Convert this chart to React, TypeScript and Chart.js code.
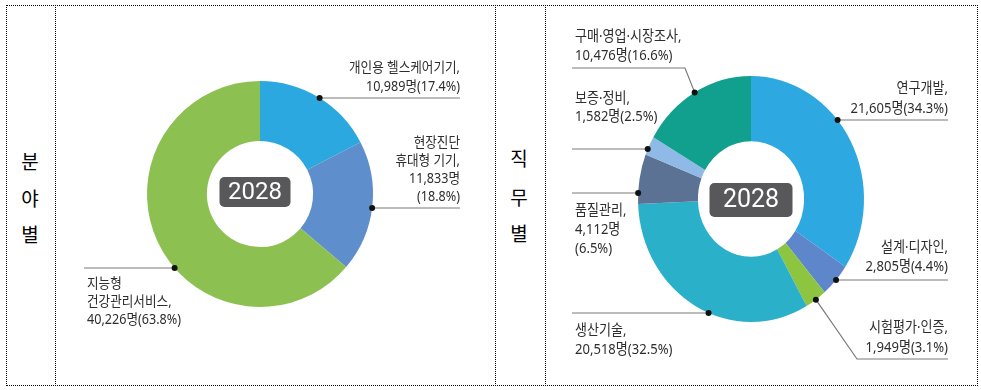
import React, { useEffect, useRef } from "react";
import { Chart, registerables } from "chart.js";

Chart.register(...registerables);

// ---------- data ----------
const centerLabel = "2028";

const leftTitle = ["분", "야", "별"];
const leftCategories = ["개인용 헬스케어기기", "현장진단\n휴대형 기기", "지능형\n건강관리서비스"];
const leftValues = [10989, 11833, 40226];
const leftPercents = [17.4, 18.8, 63.8];

const rightTitle = ["직", "무", "별"];
const rightCategories = [
  "연구개발",
  "설계·디자인",
  "시험평가·인증",
  "생산기술",
  "품질관리",
  "보증·정비",
  "구매·영업·시장조사",
];
const rightValues = [21605, 2805, 1949, 20518, 4112, 1582, 10476];
const rightPercents = [34.3, 4.4, 3.1, 32.5, 6.5, 2.5, 16.6];

// ---------- styles ----------
const leftColors = ["#2BA8E0", "#5F8ECD", "#8CC152"];
const rightColors = ["#2DA8E1", "#5E87CB", "#8DC540", "#2BB0C9", "#5B7295", "#8FB9E6", "#12A08E"];

type Leader =
  | { mode: "y"; y: number; side: "left" | "right"; endX: number }
  | { mode: "mid"; elbowX: number; elbowY: number; endX: number };

type LabelLayout = {
  align: "left" | "right";
  x: number;
  ys: number[];
  splitValue?: boolean;
  leader: Leader;
};

type Panel = {
  left: number;
  top: number;
  width: number;
  height: number;
  cx: number;
  cy: number;
  r: number;
  sy: number;
  fontSize: number;
  scaleX: number;
  box: { dx: number; dy: number; w: number; h: number; fontSize: number };
  categories: string[];
  values: number[];
  percents: number[];
  colors: string[];
  labels: LabelLayout[];
};

const leftPanel: Panel = {
  left: 56,
  top: 6,
  width: 439,
  height: 379,
  cx: 260,
  cy: 194,
  r: 113,
  sy: 1,
  fontSize: 14,
  scaleX: 0.9,
  box: { dx: -5, dy: -2, w: 71, h: 30, fontSize: 24 },
  categories: leftCategories,
  values: leftValues,
  percents: leftPercents,
  colors: leftColors,
  labels: [
    { align: "right", x: 460, ys: [68, 87], leader: { mode: "y", y: 98, side: "right", endX: 460 } },
    {
      align: "right",
      x: 460,
      ys: [143, 161, 179, 197],
      splitValue: true,
      leader: { mode: "y", y: 208, side: "right", endX: 460 },
    },
    { align: "left", x: 87, ys: [284, 302, 320], leader: { mode: "y", y: 268, side: "left", endX: 84 } },
  ],
};

const rightPanel: Panel = {
  left: 546,
  top: 6,
  width: 431,
  height: 379,
  cx: 751,
  cy: 199,
  r: 113,
  sy: 1.0885,
  fontSize: 15,
  scaleX: 0.87,
  box: { dx: 0, dy: 1, w: 83, h: 34, fontSize: 25 },
  categories: rightCategories,
  values: rightValues,
  percents: rightPercents,
  colors: rightColors,
  labels: [
    { align: "right", x: 948, ys: [89, 109], leader: { mode: "y", y: 120, side: "right", endX: 948 } },
    { align: "right", x: 948, ys: [248, 267], leader: { mode: "y", y: 280, side: "right", endX: 948 } },
    { align: "right", x: 948, ys: [328, 348], leader: { mode: "mid", elbowX: 857, elbowY: 359, endX: 948 } },
    { align: "left", x: 575, ys: [331, 350], leader: { mode: "y", y: 313, side: "left", endX: 572 } },
    {
      align: "left",
      x: 575,
      ys: [211, 230, 249],
      splitValue: true,
      leader: { mode: "y", y: 193, side: "left", endX: 572 },
    },
    { align: "left", x: 575, ys: [99, 117], leader: { mode: "y", y: 149, side: "left", endX: 572 } },
    { align: "left", x: 575, ys: [37, 56], leader: { mode: "mid", elbowX: 685, elbowY: 68, endX: 572 } },
  ],
};

const fmt = (n: number) => n.toLocaleString("en-US");

function labelLines(p: Panel, i: number): string[] {
  const nameLines = (p.categories[i] + ",").split("\n");
  const v = `${fmt(p.values[i])}명`;
  const pc = `(${p.percents[i].toFixed(1)}%)`;
  const layout = p.labels[i];
  return layout.splitValue ? [...nameLines, v, pc] : [...nameLines, v + pc];
}

function makePlugin(p: Panel) {
  return {
    id: "annotations",
    beforeDatasetsDraw(chart: any) {
      const arc = chart.getDatasetMeta(0).data[0];
      const ctx = chart.ctx;
      ctx.save();
      ctx.translate(arc.x, arc.y);
      ctx.scale(1, p.sy);
      ctx.translate(-arc.x, -arc.y);
    },
    afterDatasetsDraw(chart: any) {
      chart.ctx.restore();
    },
    afterDraw(chart: any) {
      const ctx: CanvasRenderingContext2D = chart.ctx;
      const meta = chart.getDatasetMeta(0);
      const ox = p.left;
      const oy = p.top;
      ctx.save();
      p.labels.forEach((lab, i) => {
        const el = meta.data[i];
        const cx = el.x;
        const cy = el.y;
        const R = el.outerRadius;
        let px: number;
        let py: number;
        ctx.strokeStyle = "#7a7a7a";
        ctx.lineWidth = 1.2;
        ctx.beginPath();
        if (lab.leader.mode === "y") {
          const ly = lab.leader.y - oy;
          const t = (ly - cy) / (R * p.sy);
          const dx = Math.sqrt(Math.max(0, 1 - t * t)) * R;
          px = cx + (lab.leader.side === "right" ? dx : -dx);
          py = ly;
          ctx.moveTo(px, py);
          ctx.lineTo(lab.leader.endX - ox, py);
        } else {
          const a = (el.startAngle + el.endAngle) / 2;
          px = cx + R * Math.cos(a);
          py = cy + R * p.sy * Math.sin(a);
          ctx.moveTo(lab.leader.endX - ox, lab.leader.elbowY - oy);
          ctx.lineTo(lab.leader.elbowX - ox, lab.leader.elbowY - oy);
          ctx.lineTo(px, py);
        }
        ctx.stroke();
        ctx.fillStyle = "#111";
        ctx.beginPath();
        ctx.arc(px, py, 3, 0, Math.PI * 2);
        ctx.fill();

        const lines = labelLines(p, i);
        ctx.fillStyle = "#2e2e2e";
        ctx.font = `${p.fontSize}px "Noto Sans", "Noto Sans CJK KR", sans-serif`;
        ctx.textBaseline = "middle";
        ctx.textAlign = lab.align;
        lines.forEach((ln, j) => {
          ctx.save();
          ctx.translate(lab.x - ox, lab.ys[j] - oy);
          ctx.scale(p.scaleX, 1);
          ctx.fillText(ln, 0, 0);
          ctx.restore();
        });
      });

      // center box
      const el0 = meta.data[0];
      const bx = el0.x + p.box.dx;
      const by = el0.y + p.box.dy;
      ctx.fillStyle = "#58585A";
      ctx.beginPath();
      (ctx as any).roundRect(bx - p.box.w / 2, by - p.box.h / 2, p.box.w, p.box.h, 5);
      ctx.fill();
      ctx.fillStyle = "#ffffff";
      ctx.font = `${p.box.fontSize}px Roboto, "Noto Sans", sans-serif`;
      ctx.textAlign = "center";
      ctx.textBaseline = "middle";
      ctx.fillText(centerLabel, bx, by + 1);
      ctx.restore();
    },
  };
}

function DonutPanel({ p }: { p: Panel }) {
  const ref = useRef<HTMLCanvasElement | null>(null);
  useEffect(() => {
    if (!ref.current) return;
    const lcx = p.cx - p.left;
    const lcy = p.cy - p.top;
    const chart = new Chart(ref.current, {
      type: "doughnut",
      data: {
        labels: p.categories.map((c) => c.replace("\n", " ")),
        datasets: [
          {
            data: p.values,
            backgroundColor: p.colors,
            borderWidth: 0,
            hoverBorderWidth: 0,
            hoverOffset: 0,
            clip: false,
          } as any,
        ],
      },
      options: {
        animation: false,
        responsive: false,
        maintainAspectRatio: false,
        devicePixelRatio: 1,
        cutout: "47%",
        events: [],
        layout: {
          padding: {
            left: lcx - p.r,
            right: p.width - lcx - p.r,
            top: lcy - p.r,
            bottom: p.height - lcy - p.r,
          },
        },
        plugins: { legend: { display: false }, tooltip: { enabled: false } },
      } as any,
      plugins: [makePlugin(p) as any],
    });
    return () => chart.destroy();
  }, [p]);
  return (
    <canvas
      ref={ref}
      width={p.width}
      height={p.height}
      style={{ position: "absolute", left: p.left, top: p.top, width: p.width, height: p.height }}
    />
  );
}

function VerticalTitle({ chars, x, ys }: { chars: string[]; x: number; ys: number[] }) {
  return (
    <>
      {chars.map((c, i) => (
        <div
          key={i}
          style={{
            position: "absolute",
            left: x,
            top: ys[i],
            transform: "translate(-50%, -50%)",
            fontFamily: '"Noto Sans CJK KR", sans-serif',
            fontSize: 19,
            lineHeight: 1,
            color: "#000",
          }}
        >
          {c}
        </div>
      ))}
    </>
  );
}

export default function App() {
  const vline = (x: number) => ({
    position: "absolute" as const,
    left: x,
    top: 5,
    width: 0,
    height: 381,
    borderLeft: "1px dotted #000",
  });
  return (
    <div style={{ position: "absolute", left: 0, top: 0, width: 981, height: 390, background: "#fff", overflow: "hidden" }}>
      <div
        style={{
          position: "absolute",
          left: 6,
          top: 5,
          width: 972,
          height: 381,
          boxSizing: "border-box",
          border: "1px dotted #000",
        }}
      />
      <div style={vline(55)} />
      <div style={vline(495)} />
      <div style={vline(545)} />
      <VerticalTitle chars={leftTitle} x={30} ys={[160, 197, 233]} />
      <VerticalTitle chars={rightTitle} x={519} ys={[157, 196, 232]} />
      <DonutPanel p={leftPanel} />
      <DonutPanel p={rightPanel} />
    </div>
  );
}
